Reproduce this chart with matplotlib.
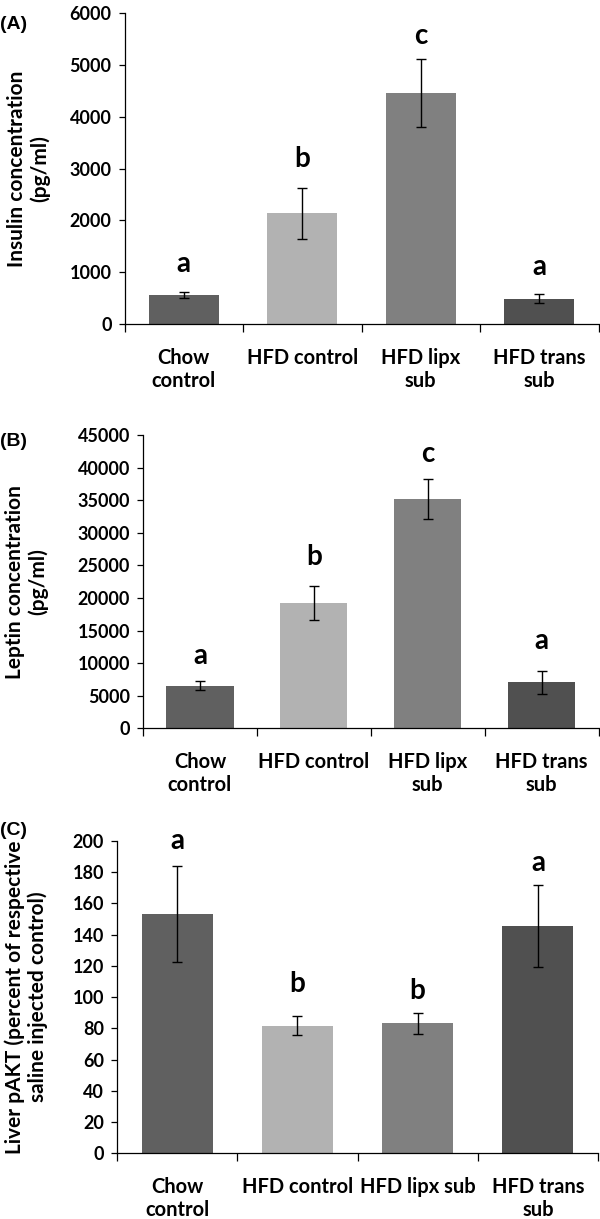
import matplotlib
matplotlib.use('Agg')
import matplotlib.pyplot as plt
import numpy as np

plt.rcParams['font.family'] = ['Lato', 'DejaVu Sans']
plt.rcParams['font.weight'] = 'bold'

# groups and bar colours
groups = ['Chow', 'HFD control', 'HFD lipx', 'HFD trans']
bar_colors = ['#606060', '#b2b2b2', '#808080', '#505050']

# (A) insulin
insulin_mean = [560, 2140, 4460, 490]
insulin_err = [60, 495, 665, 85]
insulin_letters = ['a', 'b', 'c', 'a']
insulin_letter_y = [1000, 3030, 5400, 950]   # baseline of the letters
insulin_ticks = [0, 1000, 2000, 3000, 4000, 5000, 6000]

# (B) leptin
leptin_mean = [6500, 19200, 35200, 7050]
leptin_err = [700, 2600, 3050, 1800]
leptin_letters = ['a', 'b', 'c', 'a']
leptin_letter_y = [9900, 25000, 40900, 12200]
leptin_ticks = [0, 5000, 10000, 15000, 20000, 25000, 30000, 35000, 40000, 45000]

# (C) liver pAKT
pakt_mean = [153.3, 81.7, 83.2, 145.6]
pakt_err = [31, 6.2, 6.8, 26.3]
pakt_letters = ['a', 'b', 'b', 'a']
pakt_letter_y = [195, 103.3, 99.1, 180.8]
pakt_ticks = [0, 20, 40, 60, 80, 100, 120, 140, 160, 180, 200]

labels_ab = ['Chow\ncontrol', 'HFD control', 'HFD lipx\nsub', 'HFD trans\nsub']
labels_c = ['Chow\ncontrol', 'HFD control', 'HFD lipx sub', 'HFD trans\nsub']

fig = plt.figure(figsize=(6, 12.19), dpi=100)


def draw_panel(ax, mean, err, letters, letter_y, ticks, xlabels, ylabel,
               ylab_x):
    x = np.arange(len(mean))
    ax.bar(x, mean, width=0.59, color=bar_colors, zorder=2)
    ax.errorbar(x, mean, yerr=err, fmt='none', ecolor='black',
                elinewidth=1.0, capsize=3.4, capthick=1.0, zorder=3)
    for xi, t, ty in zip(x, letters, letter_y):
        ax.text(xi, ty, t, ha='center', va='baseline', fontsize=20,
                fontweight='bold')
    ax.set_xlim(-0.5, len(mean) - 0.5)
    ax.set_ylim(ticks[0], ticks[-1])
    ax.set_yticks(ticks)
    ax.set_yticklabels([str(t) for t in ticks], fontsize=13,
                       fontweight='bold')
    ax.set_xticks(x)
    ax.set_xticklabels(xlabels, fontsize=14.5, fontweight='bold',
                       linespacing=1.2)
    ax.tick_params(axis='x', which='major', length=0, pad=17)
    ax.set_xticks(np.arange(-0.5, len(mean)), minor=True)
    ax.tick_params(axis='x', which='minor', length=5.5, width=0.9,
                   direction='out')
    ax.tick_params(axis='y', length=4.3, width=0.9, direction='out', pad=5)
    for s in ['top', 'right']:
        ax.spines[s].set_visible(False)
    for s in ['left', 'bottom']:
        ax.spines[s].set_linewidth(0.9)
    ax.set_ylabel(ylabel, fontsize=15, fontweight='bold', linespacing=1.15)
    ax.yaxis.set_label_coords(ylab_x, 0.5)


axA = fig.add_axes([124.5 / 600, 1 - 324 / 1219, 474 / 600, 310.7 / 1219])
draw_panel(axA, insulin_mean, insulin_err, insulin_letters, insulin_letter_y,
           insulin_ticks, labels_ab, 'Insulin concentration\n(pg/ml)', -0.157)

axB = fig.add_axes([143 / 600, 1 - 728.3 / 1219, 455.5 / 600, 293.3 / 1219])
draw_panel(axB, leptin_mean, leptin_err, leptin_letters, leptin_letter_y,
           leptin_ticks, labels_ab, 'Leptin concentration\n(pg/ml)', -0.209)

axC = fig.add_axes([117 / 600, 1 - 1153.3 / 1219, 481 / 600, 312.3 / 1219])
draw_panel(axC, pakt_mean, pakt_err, pakt_letters, pakt_letter_y,
           pakt_ticks, labels_c,
           'Liver pAKT (percent of respective\nsaline injected control)',
           -0.143)

for ylab, yy in [('(A)', 0.9795), ('(B)', 0.6377), ('(C)', 0.3191)]:
    fig.text(0.0, yy, ylab, fontsize=14, fontweight='bold', va='center',
             family=['Liberation Sans', 'DejaVu Sans'])

fig.savefig('out.png', dpi=100)
